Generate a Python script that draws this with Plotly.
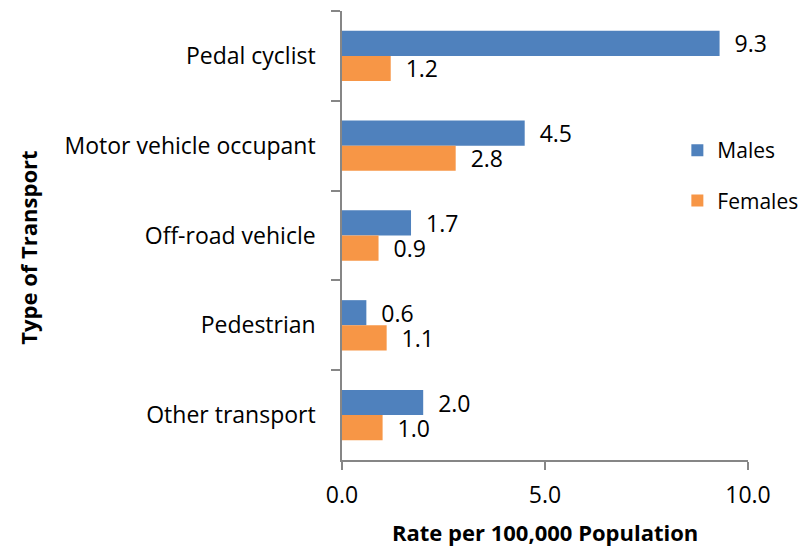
import plotly.graph_objects as go

categories = ["Pedal cyclist", "Motor vehicle occupant", "Off-road vehicle", "Pedestrian", "Other transport"]
males = [9.3, 4.5, 1.7, 0.6, 2.0]
females = [1.2, 2.8, 0.9, 1.1, 1.0]
x_ticks = [0, 5, 10]
x_tick_labels = ["0.0", "5.0", "10.0"]

FONT = "Open Sans"
AXIS_COLOR = "#868686"
FS = 23

fig = go.Figure()
fig.add_trace(go.Bar(
    y=categories, x=males, name="Males", orientation="h",
    marker=dict(color="#4F81BD", line=dict(width=0)),
    text=[f"{v:.1f}" for v in males], textposition="outside",
    texttemplate="\u00a0\u00a0%{text}", cliponaxis=False, constraintext="none",
    textfont=dict(size=FS, color="black", family=FONT),
    legendgroup="m",
))
fig.add_trace(go.Bar(
    y=categories, x=females, name="Females", orientation="h",
    marker=dict(color="#F79646", line=dict(width=0)),
    text=[f"{v:.1f}" for v in females], textposition="outside",
    texttemplate="\u00a0\u00a0%{text}", cliponaxis=False, constraintext="none",
    textfont=dict(size=FS, color="black", family=FONT),
    legendgroup="f",
))

# page body has an 8px margin, so the figure is 8px smaller and shifted
fig.update_layout(
    width=802, height=538,
    margin=dict(l=334, r=62, t=3, b=86, autoexpand=False),
    paper_bgcolor="white", plot_bgcolor="white",
    barmode="group", bargap=0.44, bargroupgap=0,
    font=dict(family=FONT, size=FS, color="black"),
    legend=dict(
        x=0.826, y=0.735, xanchor="left", yanchor="top",
        font=dict(size=21, family=FONT), tracegroupgap=20,
        bgcolor="rgba(0,0,0,0)", itemwidth=30,
    ),
    xaxis=dict(
        range=[0, 10], tickvals=x_ticks, ticktext=x_tick_labels,
        showgrid=False, zeroline=False, automargin=False,
        showline=True, linecolor=AXIS_COLOR, linewidth=1.5,
        ticks="outside", ticklen=8, tickcolor=AXIS_COLOR, tickwidth=1.5,
        tickfont=dict(size=FS, family=FONT), ticklabelstandoff=6,
    ),
    yaxis=dict(
        categoryorder="array", categoryarray=categories,
        autorange="reversed",
        showgrid=False, zeroline=False, automargin=False,
        showline=True, linecolor=AXIS_COLOR, linewidth=1.5,
        ticks="outside", ticklen=9, tickcolor=AXIS_COLOR, tickwidth=1.5,
        tickson="boundaries",
        tickfont=dict(size=FS, family=FONT), ticklabelstandoff=20,
    ),
    annotations=[
        dict(text="<b>Rate per 100,000 Population</b>", xref="paper", yref="paper",
             x=0.5, y=-0.16, xanchor="center", yanchor="middle", showarrow=False,
             font=dict(size=22, family=FONT)),
        dict(text="<b>Type of Transport</b>", xref="paper", yref="paper",
             x=-0.772, y=0.472, xanchor="center", yanchor="middle", showarrow=False,
             textangle=-90, font=dict(size=22, family=FONT)),
    ],
)

fig.write_html("out.html")
